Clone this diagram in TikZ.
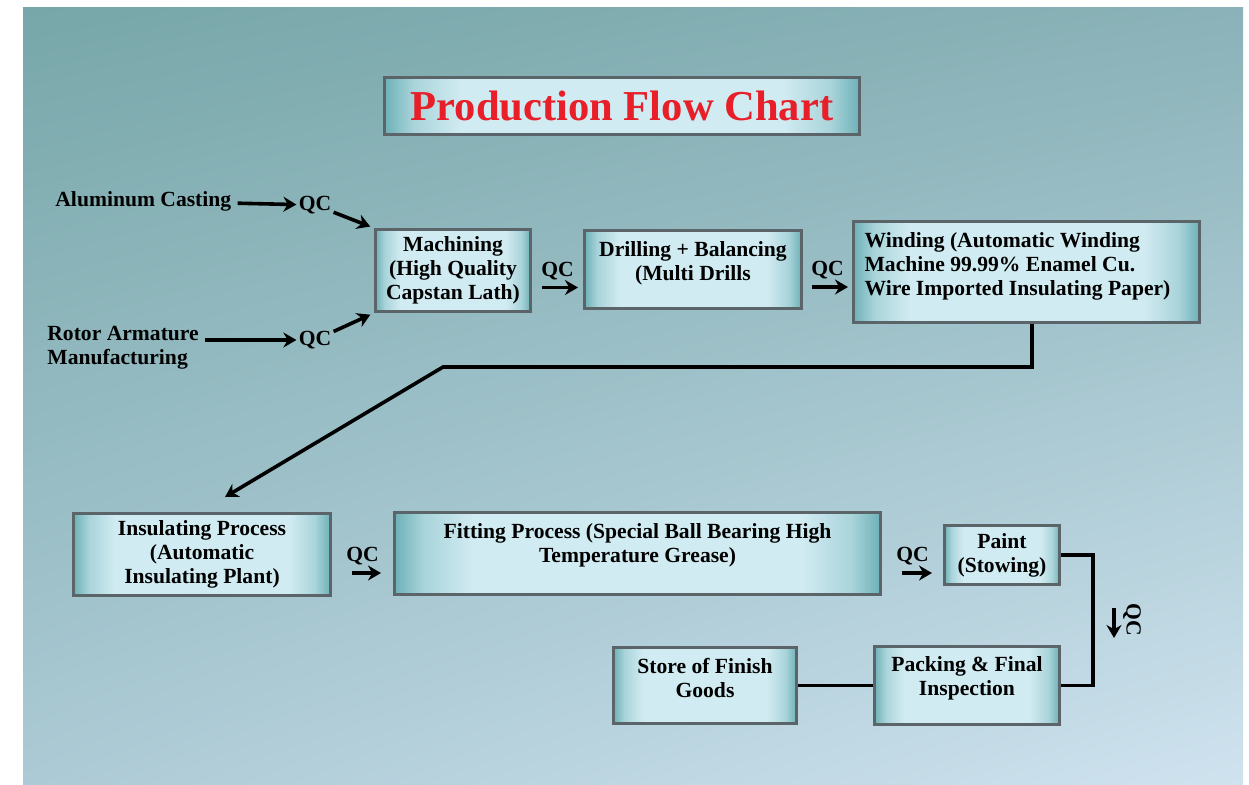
\documentclass[tikz,border=0pt]{standalone}
\usepackage{fontspec}
\setmainfont{Liberation Serif}
\usepackage{xcolor}
\usepackage{tikz}
\usetikzlibrary{calc, positioning, arrows.meta, shadings}

\definecolor{bgtl}{HTML}{77A7A9}
\definecolor{bgtr}{HTML}{8AB2B8}
\definecolor{bgbl}{HTML}{ACCAD5}
\definecolor{bgbr}{HTML}{CFE3EF}
\definecolor{boxedge}{HTML}{6DB1B7}
\definecolor{boxfill}{HTML}{D0EBF1}
\colorlet{boxmid}{boxedge!40!boxfill}
\definecolor{boxline}{HTML}{5B6468}
\definecolor{titlered}{HTML}{E81E28}

\pgfdeclarehorizontalshading{boxshade}{100bp}{color(0bp)=(boxedge); color(25bp)=(boxedge); color(28bp)=(boxmid); color(33bp)=(boxfill); color(67bp)=(boxfill); color(72bp)=(boxmid); color(75bp)=(boxedge); color(100bp)=(boxedge)}

\tikzset{
    procbox/.style={draw=boxline, line width=1.5pt, shade, shading=boxshade, align=center, inner sep=2pt},
    qclabel/.style={inner sep=1pt},
    flow/.style={line width=1.8pt, ->},
    link/.style={line width=1.8pt},
}

\begin{document}
\begin{tikzpicture}[>={Stealth[length=6.5pt, width=7.5pt]}, x=0.5pt, y=-0.5pt,
    font=\fontsize{10.8}{12}\selectfont\bfseries]
    \useasboundingbox (0,0) rectangle (1249,784);
    % 1. Nen
    \fill[white] (0,0) rectangle (1249,784);
    \shade[upper left=bgtl, upper right=bgtr, lower left=bgbl, lower right=bgbr]
        (23,7) rectangle (1243,784);

    % 2. Tieu de
    \node[procbox, minimum width=237.5pt, minimum height=28.5pt, text=titlered,
        font=\fontsize{21.3}{24}\selectfont\bfseries] (title) at (622,106) {Production Flow Chart};

    % 3. Hang tren
    \node[anchor=west, inner sep=3pt] (alum) at (49,201) {Aluminum Casting};
    \node[anchor=west, inner sep=3pt, align=left] (rotor) at (41,348) {Rotor Armature\\Manufacturing};
    \node[qclabel] (qc1) at (315,205) {QC};
    \node[qclabel] (qc2) at (315,340) {QC};
    \node[procbox, minimum width=77.5pt, minimum height=41pt] (mach) at (453,270.5)
        {Machining\\(High Quality\\Capstan Lath)};
    \node[procbox, minimum width=108.5pt, minimum height=39pt] (drill) at (693,269.5)
        {Drilling + Balancing\\(Multi Drills\\[-3pt]};
    \node[procbox, minimum width=173pt, minimum height=50.5pt, align=left] (wind) at (1026.5,272)
        {Winding (Automatic Winding\\Machine 99.99\% Enamel Cu.\\Wire Imported Insulating Paper)\rule{9pt}{0pt}\\[-4pt]};

    \draw[flow] (alum) -- (qc1);
    \draw[flow] (rotor.east |- qc2) -- (qc2);
    \draw[flow, shorten >=2pt] (qc1) -- (mach.north west);
    \draw[flow, shorten >=2pt] (qc2) -- (mach.south west);
    \draw[flow, shorten <=5pt, shorten >=2.5pt] ([yshift=-8.5pt]mach.east)
        -- node[above=2pt, qclabel] (qc3) {QC} ([yshift=-8.5pt]mach.east -| drill.west);
    \draw[flow, shorten <=4.5pt, shorten >=2pt] ([yshift=-8.75pt]drill.east)
        -- node[above=2pt, qclabel] (qc4) {QC} ([yshift=-8.75pt]drill.east -| wind.west);

    % 4. Hang duoi
    \node[procbox, minimum width=128.5pt, minimum height=41pt] (ins) at (202,554.5)
        {Insulating Process\\(Automatic\\Insulating Plant)};
    \node[procbox, minimum width=243pt, minimum height=41pt] (fit) at (637.5,553.5)
        {Fitting Process (Special Ball Bearing High\\Temperature Grease)\\[-1.5pt]};
    \node[procbox, minimum width=57.5pt, minimum height=29.5pt] (paint) at (1002,555)
        {Paint\\(Stowing)};
    \node[procbox, minimum width=92.5pt, minimum height=39pt] (pack) at (967,685.5)
        {Packing \& Final\\Inspection\\[-2.5pt]};
    \node[procbox, minimum width=91.5pt, minimum height=38pt] (store) at (705,685.5)
        {Store of Finish\\Goods\\[-4pt]};
    \node[qclabel, rotate=-90] (qc7) at (1132,620) {QC};

    \coordinate (wbend) at (443,367);
    \draw[flow] ([xshift=2.75pt]wind.south) |- (wbend) -- ([xshift=11.5pt, yshift=7.5pt]ins.north);
    \draw[flow, shorten <=10pt, shorten >=6pt] ([yshift=-9.25pt]ins.east)
        -- node[above=2pt, qclabel] (qc5) {QC} ([yshift=-9.25pt]ins.east -| fit.west);
    \draw[flow, shorten <=10pt, shorten >=5.5pt] ([yshift=-9.75pt]fit.east)
        -- node[above=2pt, qclabel] (qc6) {QC} ([yshift=-9.75pt]fit.east -| paint.west);
    \draw[link] (paint.east) -- ++(32,0) |- (pack.east);
    \draw[flow] ([xshift=-9pt, yshift=6pt]qc7.center) -- ([xshift=-9pt, yshift=-9pt]qc7.center);
    \draw[link] (pack) -- (store);
\end{tikzpicture}
\end{document}
